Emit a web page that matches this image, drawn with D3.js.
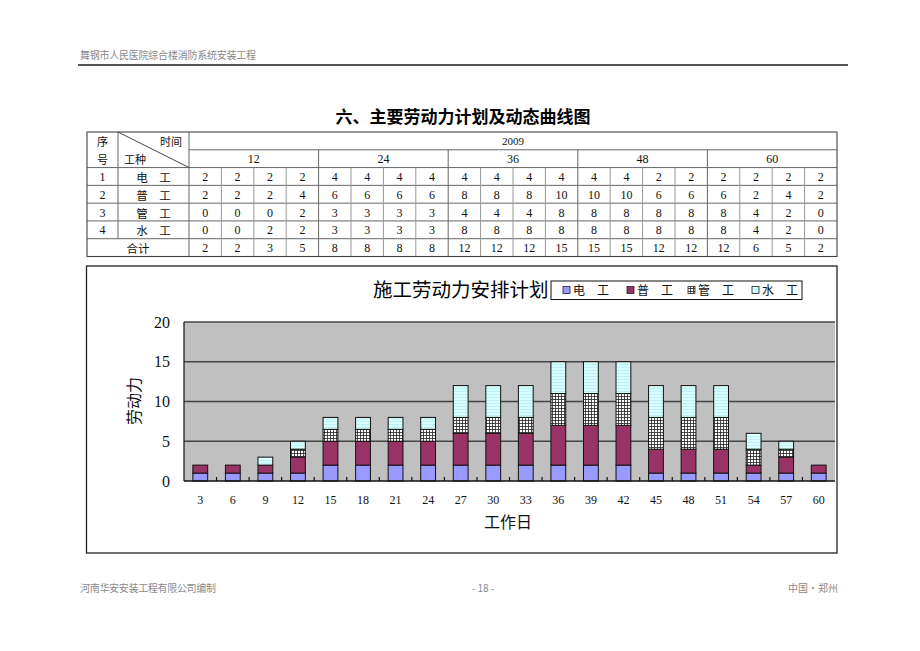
<!DOCTYPE html>
<html><head><meta charset="utf-8">
<script src="https://cdn.jsdelivr.net/npm/d3@7/dist/d3.min.js"></script>
<style>
html,body{margin:0;padding:0;background:#fff;}
svg{display:block;}
</style></head>
<body>
<svg id="c" width="920" height="651"></svg>
<script>
// ---------- data ----------
const days = [3,6,9,12,15,18,21,24,27,30,33,36,39,42,45,48,51,54,57,60];
const seriesNames = ["电 工","普 工","管 工","水 工"];
const elec    = [1,1,1,1,2,2,2,2,2,2,2,2,2,2,1,1,1,1,1,1];
const general = [1,1,1,2,3,3,3,3,4,4,4,5,5,5,3,3,3,1,2,1];
const pipe    = [0,0,0,1,1.5,1.5,1.5,1.5,2,2,2,4,4,4,4,4,4,2,1,0];
const water   = [0,0,1,1,1.5,1.5,1.5,1.5,4,4,4,4,4,4,4,4,4,2,1,0];
const yTicks = [0,5,10,15,20];

// table data
const tableYear = "2009";
const tableGroups = ["12","24","36","48","60"];
const tableRowNo = ["1","2","3","4"];
const tableRowNames = ["电　工","普　工","管　工","水　工"];
const tElec    = [2,2,2,2,4,4,4,4,4,4,4,4,4,4,2,2,2,2,2,2];
const tGeneral = [2,2,2,4,6,6,6,6,8,8,8,10,10,10,6,6,6,2,4,2];
const tPipe    = [0,0,0,2,3,3,3,3,4,4,4,8,8,8,8,8,8,4,2,0];
const tWater   = [0,0,2,2,3,3,3,3,8,8,8,8,8,8,8,8,8,4,2,0];
const tTotal   = [2,2,3,5,8,8,8,8,12,12,12,15,15,15,12,12,12,6,5,2];

const headerText = "舞钢市人民医院综合楼消防系统安装工程";
const pageTitle = "六、主要劳动力计划及动态曲线图";
const chartTitle = "施工劳动力安排计划";
const yTitle = "劳动力";
const xTitle = "工作日";
const footerLeft = "河南华安安装工程有限公司编制";
const footerMid = "- 18 -";
const footerRight = "中国·郑州";

// ---------- drawing ----------
const svg = d3.select("#c");
const CJK = "'Noto Sans CJK SC','Noto Sans',sans-serif";
const SERIF = "'Liberation Serif','DejaVu Serif',serif";

const defs = svg.append("defs");
const pGrid = defs.append("pattern").attr("id","pgrid").attr("patternUnits","userSpaceOnUse")
  .attr("width",3).attr("height",3);
pGrid.append("rect").attr("width",3).attr("height",3).attr("fill","#fff");
pGrid.append("path").attr("d","M0,0.5H3M0.5,0V3").attr("stroke","#222").attr("stroke-width",0.8);
const pWater = defs.append("pattern").attr("id","pwater").attr("patternUnits","userSpaceOnUse")
  .attr("width",4).attr("height",3);
pWater.append("rect").attr("width",4).attr("height",3).attr("fill","#d8ffff");
pWater.append("path").attr("d","M0,1.5H4").attr("stroke","#b9eef0").attr("stroke-width",0.8);

const fills = ["#9999ff","#993366","url(#pgrid)","url(#pwater)"];

// header / footer
svg.append("text").attr("x",80).attr("y",59).attr("font-family",CJK).attr("font-size",10)
  .attr("fill","#8a8a8a").attr("textLength",176).text(headerText);
svg.append("line").attr("x1",78).attr("x2",848).attr("y1",65).attr("y2",65)
  .attr("stroke","#555").attr("stroke-width",1.8);
svg.append("text").attr("x",80).attr("y",592).attr("font-family",CJK).attr("font-size",10)
  .attr("fill","#8a8a8a").attr("textLength",136).text(footerLeft);
svg.append("text").attr("x",483).attr("y",592).attr("text-anchor","middle").attr("font-family",CJK)
  .attr("font-size",10).attr("fill","#8a8a8a").text(footerMid);
svg.append("text").attr("x",838).attr("y",592).attr("text-anchor","end").attr("font-family",CJK)
  .attr("font-size",10).attr("fill","#8a8a8a").text(footerRight);

// page title
svg.append("text").attr("x",463).attr("y",123).attr("text-anchor","middle").attr("font-family",CJK)
  .attr("font-size",17).attr("font-weight","bold").attr("fill","#000").text(pageTitle);

// ---------- table ----------
const T = {x0:87, x1:837, xNo:118, xName:189, y0:132, y1:256.5};
const rowY = d3.scaleBand().domain(d3.range(7)).range([T.y0,T.y1]);
const colX = d3.scaleBand().domain(d3.range(20)).range([T.xName,T.x1]);
const rh = rowY.bandwidth(), cw = colX.bandwidth();
const tg = svg.append("g");
const ln = (x1,y1,x2,y2,c,w)=>tg.append("line").attr("x1",x1).attr("y1",y1).attr("x2",x2).attr("y2",y2)
  .attr("stroke",c||"#666").attr("stroke-width",w||1);
// horizontal lines
ln(T.xName,rowY(1),T.x1,rowY(1));
for(let r=2;r<7;r++) ln(T.x0,rowY(r),T.x1,rowY(r));
// vertical lines
ln(T.xNo,T.y0,T.xNo,rowY(6));
ln(T.xName,T.y0,T.xName,T.y1);
for(let c=1;c<20;c++){
  const x=colX(c);
  if(c%4===0) ln(x,rowY(1),x,T.y1,"#666");
  else ln(x,rowY(2),x,T.y1,"#999");
}
// diagonal
ln(T.xNo,T.y0,T.xName,rowY(2),"#444");
// outer
tg.append("rect").attr("x",T.x0).attr("y",T.y0).attr("width",T.x1-T.x0).attr("height",T.y1-T.y0)
  .attr("fill","none").attr("stroke","#444").attr("stroke-width",1.1);

const tt = (x,y,s,opt={})=>tg.append("text").attr("x",x).attr("y",y)
  .attr("text-anchor",opt.anchor||"middle").attr("dominant-baseline","central")
  .attr("font-family",opt.font||SERIF).attr("font-size",opt.size||12).attr("fill","#111").text(s);
const cy = r=>rowY(r)+rh/2+0.5;
tt((T.x0+T.xNo)/2,cy(0),"序",{font:CJK,size:11});
tt((T.x0+T.xNo)/2,cy(1),"号",{font:CJK,size:11});
tt(182,cy(0),"时间",{font:CJK,size:11,anchor:"end"});
tt(124,cy(1),"工种",{font:CJK,size:11,anchor:"start"});
tt((T.xName+T.x1)/2,cy(0),tableYear,{size:11});
tableGroups.forEach((g,i)=>tt(colX(i*4)+cw*2,cy(1),g));
const tRows=[tElec,tGeneral,tPipe,tWater];
tRows.forEach((arr,r)=>{
  tt((T.x0+T.xNo)/2,cy(r+2),tableRowNo[r]);
  tt((T.xNo+T.xName)/2,cy(r+2),tableRowNames[r],{font:CJK,size:11.5});
  arr.forEach((v,c)=>tt(colX(c)+cw/2,cy(r+2),v));
});
tt((T.x0+T.xName)/2,cy(6),"合计",{font:CJK,size:11.5});
tTotal.forEach((v,c)=>tt(colX(c)+cw/2,cy(6),v));

// ---------- chart ----------
svg.append("rect").attr("x",86.5).attr("y",266).attr("width",750.5).attr("height",287)
  .attr("fill","#fff").attr("stroke","#222").attr("stroke-width",1.3);

const P = {l:184, r:835, t:322, b:481};
const x = d3.scaleBand().domain(days).range([P.l,P.r]).paddingInner(0.545).paddingOuter(0.2725);
const y = d3.scaleLinear().domain([0,20]).range([P.b,P.t]);

svg.append("rect").attr("x",P.l).attr("y",P.t).attr("width",P.r-P.l).attr("height",P.b-P.t).attr("fill","#c0c0c0");
// gridlines
svg.append("g").selectAll("line").data(yTicks.filter(d=>d>0)).join("line")
  .attr("x1",P.l).attr("x2",P.r).attr("y1",d=>y(d)).attr("y2",d=>y(d))
  .attr("stroke","#444").attr("stroke-width",1.3);

// stacked bars
const rows = days.map((d,i)=>({day:d, s0:elec[i], s1:general[i], s2:pipe[i], s3:water[i]}));
const stack = d3.stack().keys(["s0","s1","s2","s3"])(rows);
svg.append("g").selectAll("g").data(stack).join("g")
  .attr("fill",(d,i)=>fills[i])
  .selectAll("rect").data(d=>d.filter(p=>p[1]-p[0]>0)).join("rect")
  .attr("x",d=>x(d.data.day)).attr("width",x.bandwidth())
  .attr("y",d=>y(d[1])).attr("height",d=>y(d[0])-y(d[1]))
  .attr("stroke","#111").attr("stroke-width",1);

// axes lines
svg.append("line").attr("x1",P.l).attr("x2",P.l).attr("y1",P.t).attr("y2",P.b).attr("stroke","#222").attr("stroke-width",1.3);
svg.append("line").attr("x1",P.l).attr("x2",P.r).attr("y1",P.b).attr("y2",P.b).attr("stroke","#111").attr("stroke-width",1.5);
// inside category ticks
const step = x.step();
svg.append("g").selectAll("line").data(days.slice(1)).join("line")
  .attr("x1",d=>x(d)-step*x.paddingInner()/2).attr("x2",d=>x(d)-step*x.paddingInner()/2)
  .attr("y1",P.b).attr("y2",P.b-4).attr("stroke","#111").attr("stroke-width",1.2);

// y tick labels
svg.append("g").selectAll("text").data(yTicks).join("text")
  .attr("x",170).attr("y",d=>y(d)).attr("dy","0.35em").attr("text-anchor","end")
  .attr("font-family",SERIF).attr("font-size",16).attr("fill","#111").text(d=>d);
// x tick labels
svg.append("g").selectAll("text").data(days).join("text")
  .attr("x",d=>x(d)+x.bandwidth()/2).attr("y",500).attr("dy","0.35em").attr("text-anchor","middle")
  .attr("font-family",SERIF).attr("font-size",12).attr("fill","#111").text(d=>d);

// axis titles
svg.append("text").attr("transform","translate(140,401) rotate(-90)").attr("text-anchor","middle")
  .attr("font-family",CJK).attr("font-size",16).attr("fill","#111").text(yTitle);
svg.append("text").attr("x",508).attr("y",528).attr("text-anchor","middle")
  .attr("font-family",CJK).attr("font-size",16).attr("fill","#111").text(xTitle);

// chart title
svg.append("text").attr("x",373).attr("y",297).attr("font-family",CJK).attr("font-size",19.5)
  .attr("fill","#000").text(chartTitle);

// legend
const lg = svg.append("g");
lg.append("rect").attr("x",551).attr("y",281).attr("width",251).attr("height",18.5)
  .attr("fill","#fff").attr("stroke","#111").attr("stroke-width",1);
const legX = [563,627,688,752];
seriesNames.forEach((n,i)=>{
  lg.append("rect").attr("x",legX[i]).attr("y",286.5).attr("width",7).attr("height",7)
    .attr("fill",fills[i]).attr("stroke","#222").attr("stroke-width",0.8);
  lg.append("text").attr("x",legX[i]+10).attr("y",290.5).attr("dy","0.36em")
    .attr("font-family",CJK).attr("font-size",12).attr("fill","#111").text(n.replace(" ","　"));
});
</script>
</body></html>
